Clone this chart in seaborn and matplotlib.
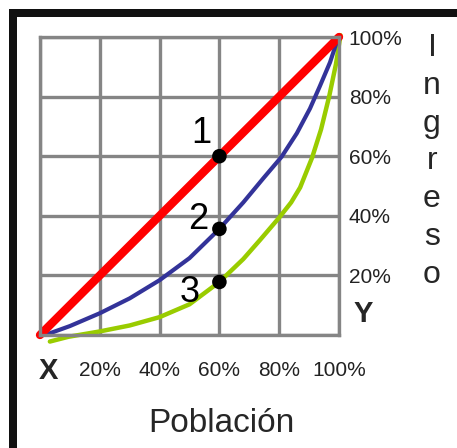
import matplotlib
matplotlib.use("Agg")
import matplotlib.pyplot as plt
import pandas as pd
import seaborn as sns
from matplotlib.patches import Rectangle

# Lorenz curves (share of population, share of income)
red_x = [0.0, 1.0]
red_y = [0.0, 1.0]
blue_x = [0.017, 0.1, 0.2, 0.3, 0.4, 0.5, 0.596, 0.68, 0.747, 0.808, 0.859, 0.903, 0.936, 0.97, 0.998]
blue_y = [0.0, 0.03, 0.073, 0.123, 0.184, 0.258, 0.352, 0.445, 0.526, 0.598, 0.677, 0.76, 0.835, 0.915, 1.0]
green_x = [0.033, 0.095, 0.2, 0.3, 0.4, 0.5, 0.6, 0.68, 0.736, 0.8, 0.84, 0.87, 0.91, 0.94, 0.967, 0.99, 1.005]
green_y = [-0.022, -0.006, 0.012, 0.032, 0.06, 0.103, 0.178, 0.255, 0.319, 0.394, 0.445, 0.495, 0.595, 0.69, 0.8, 0.91, 1.006]

# marked points at 60% of the population
point_x = [0.6, 0.6, 0.6]
point_y = [0.6, 0.356, 0.178]
point_labels = ["1", "2", "3"]

ticks = [0.0, 0.2, 0.4, 0.6, 0.8, 1.0]
tick_labels = ["", "20%", "40%", "60%", "80%", "100%"]

sns.set_style("white")
plt.rcParams["font.family"] = ["Liberation Sans", "DejaVu Sans"]

fig = plt.figure(figsize=(4.57, 4.48), dpi=100)
ax = fig.add_axes([40 / 457, 113 / 448, 299 / 457, 298 / 448])

grid_col = "#858585"
ax.set_xlim(0, 1)
ax.set_ylim(0, 1)
ax.set_xticks(ticks)
ax.set_xticklabels(tick_labels, fontsize=15, color="#222222")
ax.set_yticks(ticks)
ax.set_yticklabels(tick_labels, fontsize=15, color="#222222")
ax.yaxis.tick_right()
ax.tick_params(axis="x", length=0, pad=19)
ax.tick_params(axis="y", length=0, pad=7)
ax.grid(True, color=grid_col, linewidth=2.4)
for s in ax.spines.values():
    s.set_color(grid_col)
    s.set_linewidth(2.4)
ax.set_axisbelow(True)

red = pd.DataFrame({"x": red_x, "y": red_y})
blue = pd.DataFrame({"x": blue_x, "y": blue_y})
green = pd.DataFrame({"x": green_x, "y": green_y})

sns.lineplot(data=green, x="x", y="y", sort=False, color="#99cc00", linewidth=3.2, ax=ax,
             clip_on=False, solid_joinstyle="round")
sns.lineplot(data=blue, x="x", y="y", sort=False, color="#333399", linewidth=3.0, ax=ax,
             clip_on=False, solid_joinstyle="round")
sns.lineplot(data=red, x="x", y="y", sort=False, color="#ff0000", linewidth=6.0, ax=ax,
             clip_on=False, solid_capstyle="round")
sns.scatterplot(x=point_x, y=point_y, color="black", s=110, edgecolor="none", ax=ax, zorder=5, clip_on=False)
ax.set_xlabel("")
ax.set_ylabel("")

# numbers next to the points
offsets = [(-0.06, 0.075), (-0.07, 0.03), (-0.1, -0.035)]
for px, py, lab, (dx, dy) in zip(point_x, point_y, point_labels, offsets):
    ax.text(px + dx, py + dy, lab, fontsize=26, ha="center", va="center", color="black")

ax.text(0.027, -0.12, "X", fontsize=21, fontweight="bold", ha="center", va="center",
        transform=ax.transAxes)
ax.text(1.08, 0.07, "Y", fontsize=21, fontweight="bold", ha="center", va="center",
        transform=ax.transAxes)

fig.text(221 / 457, 1 - 423 / 448, "Población", fontsize=24, ha="center", va="center")
fig.text(432 / 457, 1 - 33 / 448, "I\nn\ng\nr\ne\ns\no", fontsize=23, ha="center", va="top",
         linespacing=1.34)

# black frame on the top and left edges
fig.patches.append(Rectangle((9 / 457, 1 - 17 / 448), 1, 8 / 448, transform=fig.transFigure,
                             facecolor="#111111", edgecolor="none"))
fig.patches.append(Rectangle((9 / 457, 0), 8 / 457, 1 - 9 / 448, transform=fig.transFigure,
                             facecolor="#111111", edgecolor="none"))

fig.savefig("out.png", dpi=100)
